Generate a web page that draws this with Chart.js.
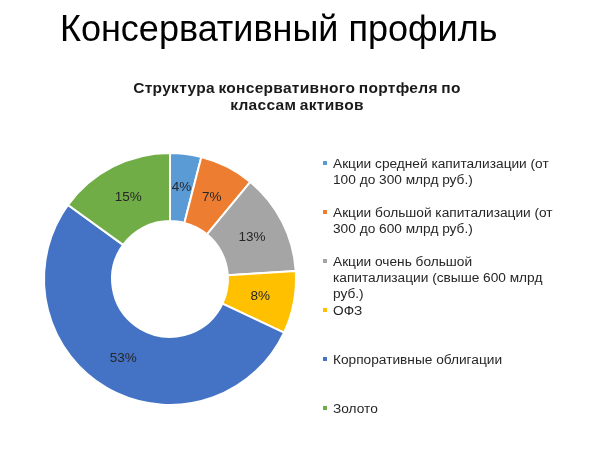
<!DOCTYPE html>
<html>
<head>
<meta charset="utf-8">
<script src="https://cdn.jsdelivr.net/npm/chart.js@4.4.1/dist/chart.umd.min.js"></script>
<style>
  html, body { margin: 0; padding: 0; background: #fff; }
  body { width: 600px; height: 454px; position: relative; overflow: hidden; font-family: "Liberation Sans", Arial, sans-serif; }
  #wrap { position: absolute; left: 0; top: 0; width: 600px; height: 454px; }
  #slideTitle { position: absolute; left: 60px; top: 11px; font-size: 36px; line-height: 36px; color: #000; white-space: nowrap; }
  #chartTitle { position: absolute; left: 0; width: 594px; top: 80px; text-align: center; font-size: 15.5px; font-weight: bold; color: #1a1a1a; line-height: 16.5px; letter-spacing: 0.3px; word-spacing: -1px; }
  #legend { position: absolute; left: 322px; top: 0; }
  .item { position: absolute; left: 0; width: 270px; font-size: 13.7px; line-height: 16.2px; color: #262626; }
  .item .sw { position: absolute; left: 1px; top: 5px; width: 4px; height: 4px; }
  .item .tx { position: absolute; left: 11px; top: 0; white-space: nowrap; }
</style>
</head>
<body>
<div id="wrap"><canvas id="c" width="600" height="454"></canvas></div>
<div id="slideTitle"></div>
<div id="chartTitle"></div>
<div id="legend"></div>
<script>
const slideTitle = 'Консервативный профиль';
const chartTitleLines = ['Структура консервативного портфеля по', 'классам активов'];
const categories = [
  ['Акции средней капитализации (от', '100 до 300 млрд руб.)'],
  ['Акции большой капитализации (от', '300 до 600 млрд руб.)'],
  ['Акции очень большой', 'капитализации (свыше 600 млрд', 'руб.)'],
  ['ОФЗ'],
  ['Корпоративные облигации'],
  ['Золото']
];
const values = [4, 7, 13, 8, 53, 15];
const colors = ['#5B9BD5', '#ED7D31', '#A5A5A5', '#FFC000', '#4472C4', '#70AD47'];

document.getElementById('slideTitle').textContent = slideTitle;
document.getElementById('chartTitle').innerHTML = chartTitleLines.join('<br>');

const legend = document.getElementById('legend');
categories.forEach((lines, i) => {
  const it = document.createElement('div');
  it.className = 'item';
  it.style.top = (156 + i * 49) + 'px';
  const sw = document.createElement('div');
  sw.className = 'sw';
  sw.style.background = colors[i];
  const tx = document.createElement('div');
  tx.className = 'tx';
  tx.innerHTML = lines.join('<br>');
  it.appendChild(sw); it.appendChild(tx);
  legend.appendChild(it);
});

const labelPlugin = {
  id: 'pctLabels',
  afterDatasetsDraw(chart) {
    const ctx = chart.ctx;
    const meta = chart.getDatasetMeta(0);
    ctx.save();
    ctx.font = '13.5px "Liberation Sans", Arial, sans-serif';
    ctx.fillStyle = '#262626';
    ctx.textAlign = 'center';
    ctx.textBaseline = 'middle';
    meta.data.forEach((arc, i) => {
      const p = arc.tooltipPosition();
      ctx.fillText(values[i] + '%', p.x, p.y);
    });
    ctx.restore();
  }
};

new Chart(document.getElementById('c'), {
  type: 'doughnut',
  data: {
    labels: categories.map(l => l.join(' ')),
    datasets: [{
      data: values,
      backgroundColor: colors,
      borderColor: '#ffffff',
      borderWidth: 2
    }]
  },
  options: {
    responsive: false,
    animation: false,
    cutout: '46%',
    layout: { padding: { left: 43, right: 303, top: 152, bottom: 48 } },
    plugins: {
      legend: { display: false },
      title: { display: false },
      tooltip: { enabled: false }
    }
  },
  plugins: [labelPlugin]
});
</script>
</body>
</html>
